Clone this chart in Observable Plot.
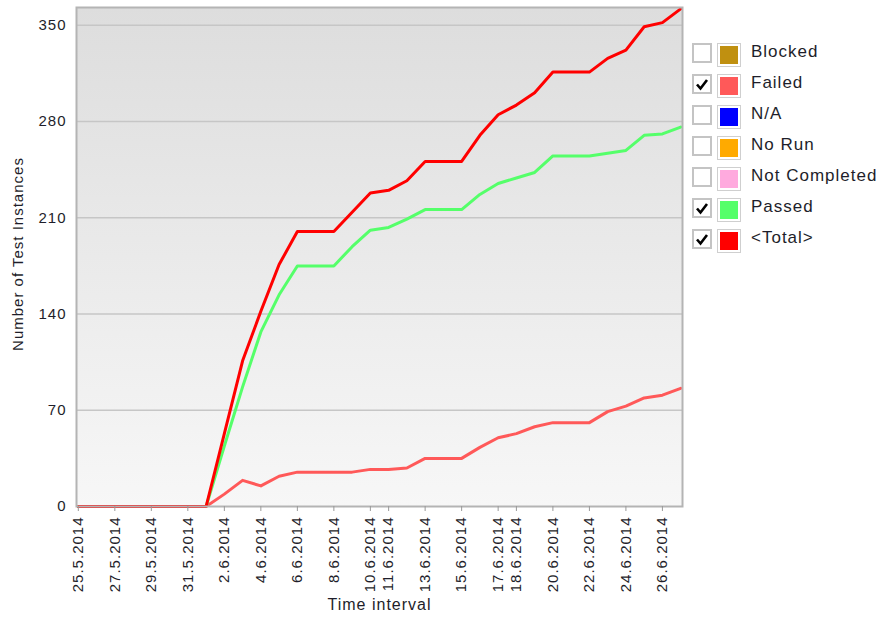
<!DOCTYPE html>
<html>
<head>
<meta charset="utf-8">
<script src="https://cdn.jsdelivr.net/npm/d3@7"></script>
<script src="https://cdn.jsdelivr.net/npm/@observablehq/plot@0.6"></script>
<style>
  html, body { margin: 0; padding: 0; background: #fff; }
  #wrap { position: relative; width: 877px; height: 619px; overflow: hidden; font-family: "Liberation Sans", Arial, sans-serif; }
  #legend { position: absolute; left: 692px; top: 43px; }
  .row { position: relative; height: 31px; }
  .cb { position: absolute; left: 0; top: 0; width: 16px; height: 16px; border: 2px solid #c4c4c4; background: #fff; }
  .sw { position: absolute; left: 25px; top: 0; width: 18px; height: 18px; border: 1px solid #cfcfcf; padding: 2px; }
  .sw div { width: 18px; height: 18px; }
  .lbl { position: absolute; left: 59px; top: -1px; font-size: 17px; letter-spacing: 1px; color: #1e1e2a; line-height: 20px; white-space: nowrap; }
</style>
</head>
<body>
<div id="wrap"></div>
<script>
// ---- data ----
const dates = ["25.5.2014","26.5.2014","27.5.2014","28.5.2014","29.5.2014","30.5.2014","31.5.2014",
  "1.6.2014","2.6.2014","3.6.2014","4.6.2014","5.6.2014","6.6.2014","7.6.2014","8.6.2014","9.6.2014",
  "10.6.2014","11.6.2014","12.6.2014","13.6.2014","14.6.2014","15.6.2014","16.6.2014","17.6.2014",
  "18.6.2014","19.6.2014","20.6.2014","21.6.2014","22.6.2014","23.6.2014","24.6.2014","25.6.2014",
  "26.6.2014","27.6.2014"];
const passed = [0,0,0,0,0,0,0,0,44,87,127,154,175,175,175,189,201,203,209,216,216,216,227,235,239,243,255,255,255,257,259,270,271,276];
const failed = [0,0,0,0,0,0,0,0,9,19,15,22,25,25,25,25,27,27,28,35,35,35,43,50,53,58,61,61,61,69,73,79,81,86];
const total  = [0,0,0,0,0,0,0,0,53,106,142,176,200,200,200,214,228,230,237,251,251,251,270,285,292,301,316,316,316,326,332,349,352,362];
const xTickLabels = ["25.5.2014","27.5.2014","29.5.2014","31.5.2014","2.6.2014","4.6.2014","6.6.2014","8.6.2014",
  "10.6.2014","11.6.2014","13.6.2014","15.6.2014","17.6.2014","18.6.2014","20.6.2014","22.6.2014","24.6.2014","26.6.2014"];
const yTicks = [0,70,140,210,280,350];
const legendNames = ["Blocked","Failed","N/A","No Run","Not Completed","Passed","<Total>"];
const legendColors = ["#c09010","#ff5959","#0000ff","#ffaa00","#ffaade","#55ff6a","#ff0000"];
const legendChecked = [false,true,false,false,false,true,true];

// ---- build ----
const parse = s => { const [d,m,y] = s.split(".").map(Number); return new Date(Date.UTC(y, m-1, d)); };
const fmt = d => `${d.getUTCDate()}.${d.getUTCMonth()+1}.${d.getUTCFullYear()}`;
const series = [
  {name: "Failed", values: failed, color: legendColors[1]},
  {name: "Passed", values: passed, color: legendColors[5]},
  {name: "<Total>", values: total, color: legendColors[6]}
];
const rows = series.flatMap(s => dates.map((d, i) => ({date: parse(d), value: s.values[i], series: s.name})));
const colorOf = Object.fromEntries(series.map(s => [s.name, s.color]));
const start = parse(dates[0]), end = parse(dates[dates.length-1]);
const pad = 2.4 * 3600 * 1000;

const chart = Plot.plot({
  width: 877, height: 619,
  marginLeft: 76, marginRight: 195, marginTop: 7, marginBottom: 113,
  style: {fontFamily: '"Liberation Sans", Arial, sans-serif', fontSize: "15px", letterSpacing: "1px", background: "#fff", color: "#1e1e2a"},
  x: {type: "utc", domain: [new Date(+start - pad), new Date(+end + pad)]},
  y: {domain: [0, 363]},
  marks: [
    Plot.frame({fill: "url(#bggrad)", stroke: null}),
    Plot.gridY(yTicks.slice(1), {stroke: "#c6c6c6", strokeOpacity: 1, strokeWidth: 1.5}),
    Plot.line(rows.filter(r => r.series === "Failed"), {x: "date", y: "value", stroke: colorOf["Failed"], strokeWidth: 3}),
    Plot.line(rows.filter(r => r.series === "Passed"), {x: "date", y: "value", stroke: colorOf["Passed"], strokeWidth: 3}),
    Plot.line(rows.filter(r => r.series === "<Total>"), {x: "date", y: "value", stroke: colorOf["<Total>"], strokeWidth: 3}),
    Plot.frame({stroke: "#b4b4b4", strokeWidth: 2}),
    Plot.axisY({ticks: yTicks, tickSize: 0, tickPadding: 10, label: null, fill: "#1e1e2a"}),
    Plot.axisX({ticks: xTickLabels.map(parse), tickFormat: fmt, tickRotate: -90, tickSize: 5, tickPadding: 5,
                label: null, stroke: "#9a9a9a", fill: "#1e1e2a"}),
    Plot.text(["Time interval"], {frameAnchor: "bottom", dy: 103, fontSize: 16, fill: "#1e1e2a"}),
    Plot.text(["Number of Test Instances"], {frameAnchor: "left", textAnchor: "middle", dx: -58, dy: -3, rotate: -90, fontSize: 15, fill: "#1e1e2a"})
  ]
});

// background gradient definition
const ns = "http://www.w3.org/2000/svg";
const defs = document.createElementNS(ns, "defs");
defs.innerHTML = `<linearGradient id="bggrad" x1="0" y1="0" x2="0" y2="1">
  <stop offset="0" stop-color="#dddddd"/><stop offset="1" stop-color="#f7f7f7"/></linearGradient>`;
chart.insertBefore(defs, chart.firstChild);

const wrap = document.getElementById("wrap");
wrap.appendChild(chart);

// legend
const legend = document.createElement("div");
legend.id = "legend";
legendNames.forEach((name, i) => {
  const row = document.createElement("div");
  row.className = "row";
  const check = legendChecked[i]
    ? `<svg width="16" height="16" style="position:absolute;left:0;top:0"><path d="M3 8.5 L6.5 12.5 L13 4" fill="none" stroke="#000" stroke-width="2.6"/></svg>`
    : "";
  row.innerHTML = `<div class="cb">${check}</div><div class="sw"><div style="background:${legendColors[i]}"></div></div><div class="lbl"></div>`;
  row.querySelector(".lbl").textContent = name;
  legend.appendChild(row);
});
wrap.appendChild(legend);
</script>
</body>
</html>
